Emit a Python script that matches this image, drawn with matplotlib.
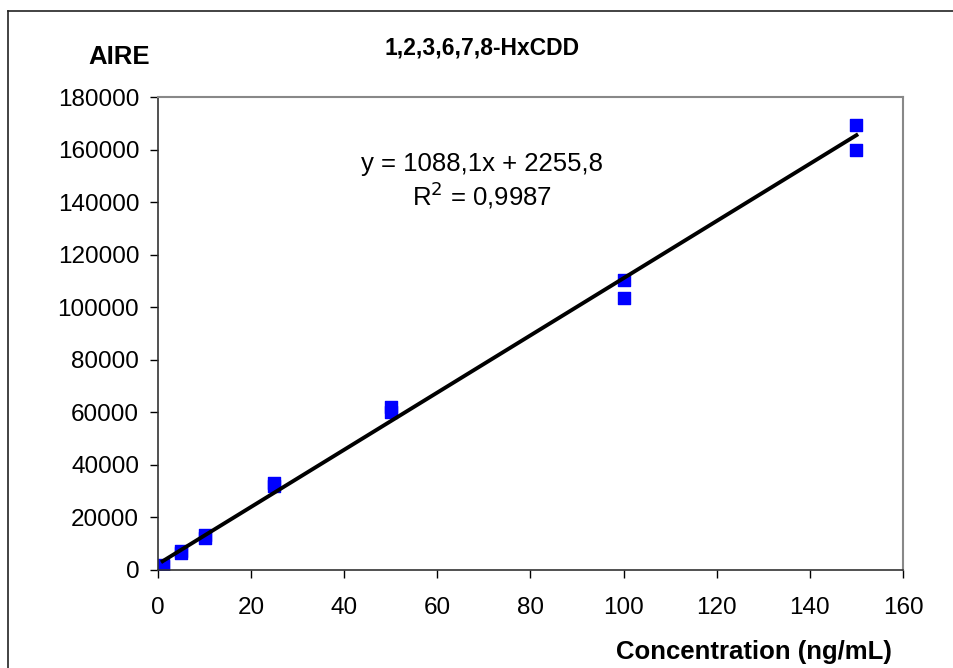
import matplotlib.pyplot as plt
import numpy as np

plt.rcParams['font.family'] = ['Liberation Sans', 'DejaVu Sans']

# calibration points
conc = [1, 1, 5, 5, 10, 10, 25, 25, 50, 50, 100, 100, 150, 150]
aire = [1500, 1800, 6500, 7200, 12000, 13200, 32000, 33200, 60000, 62000, 103500, 110500, 160000, 169500]

slope = 1088.1
intercept = 2255.8

xticks = [0, 20, 40, 60, 80, 100, 120, 140, 160]
yticks = [0, 20000, 40000, 60000, 80000, 100000, 120000, 140000, 160000, 180000]

W, H = 954, 668
fig = plt.figure(figsize=(W / 100, H / 100), dpi=100)
ax = fig.add_axes([158 / W, 1 - 570 / H, 745 / W, 473 / H])

# trend line
xfit = np.array([min(conc), max(conc)])
ax.plot(xfit, slope * xfit + intercept, color='black', lw=2.8, zorder=3)
ax.scatter(conc, aire, marker='s', s=75, color='#0000ff', zorder=2)

ax.set_xlim(0, 160)
ax.set_ylim(0, 180000)
ax.set_xticks(xticks)
ax.set_yticks(yticks)
ax.tick_params(axis='x', direction='out', length=5.5, width=1, labelsize=17.5, colors='black', pad=14)
ax.tick_params(axis='y', direction='out', length=5.5, width=1, labelsize=17.5, colors='black', pad=8)

for side in ['left', 'bottom']:
    ax.spines[side].set_color('#333333')
    ax.spines[side].set_linewidth(1.2)
for side in ['top', 'right']:
    ax.spines[side].set_color('#888888')
    ax.spines[side].set_linewidth(1.5)

fig.text(482 / W, 1 - 171 / H, 'y = 1088,1x + 2255,8', ha='center', va='baseline', fontsize=18.5)
fig.text(482 / W, 1 - 205 / H, 'R$^2$ = 0,9987', ha='center', va='baseline', fontsize=18.5)

fig.text(482 / W, 1 - 55 / H, '1,2,3,6,7,8-HxCDD', ha='center', va='baseline', fontsize=16.5, fontweight='bold')
fig.text(119.5 / W, 1 - 64 / H, 'AIRE', ha='center', va='baseline', fontsize=18.5, fontweight='bold')
fig.text(892 / W, 1 - 659 / H, 'Concentration (ng/mL)', ha='right', va='baseline', fontsize=18.5, fontweight='bold')

# outer chart frame
fig.add_artist(plt.Line2D([8 / W, 8 / W], [0, 1 - 11 / H], transform=fig.transFigure, color='#222222', lw=1.2))
fig.add_artist(plt.Line2D([8 / W, 1], [1 - 11 / H, 1 - 11 / H], transform=fig.transFigure, color='#222222', lw=1.2))

fig.savefig('out.png', dpi=100)
